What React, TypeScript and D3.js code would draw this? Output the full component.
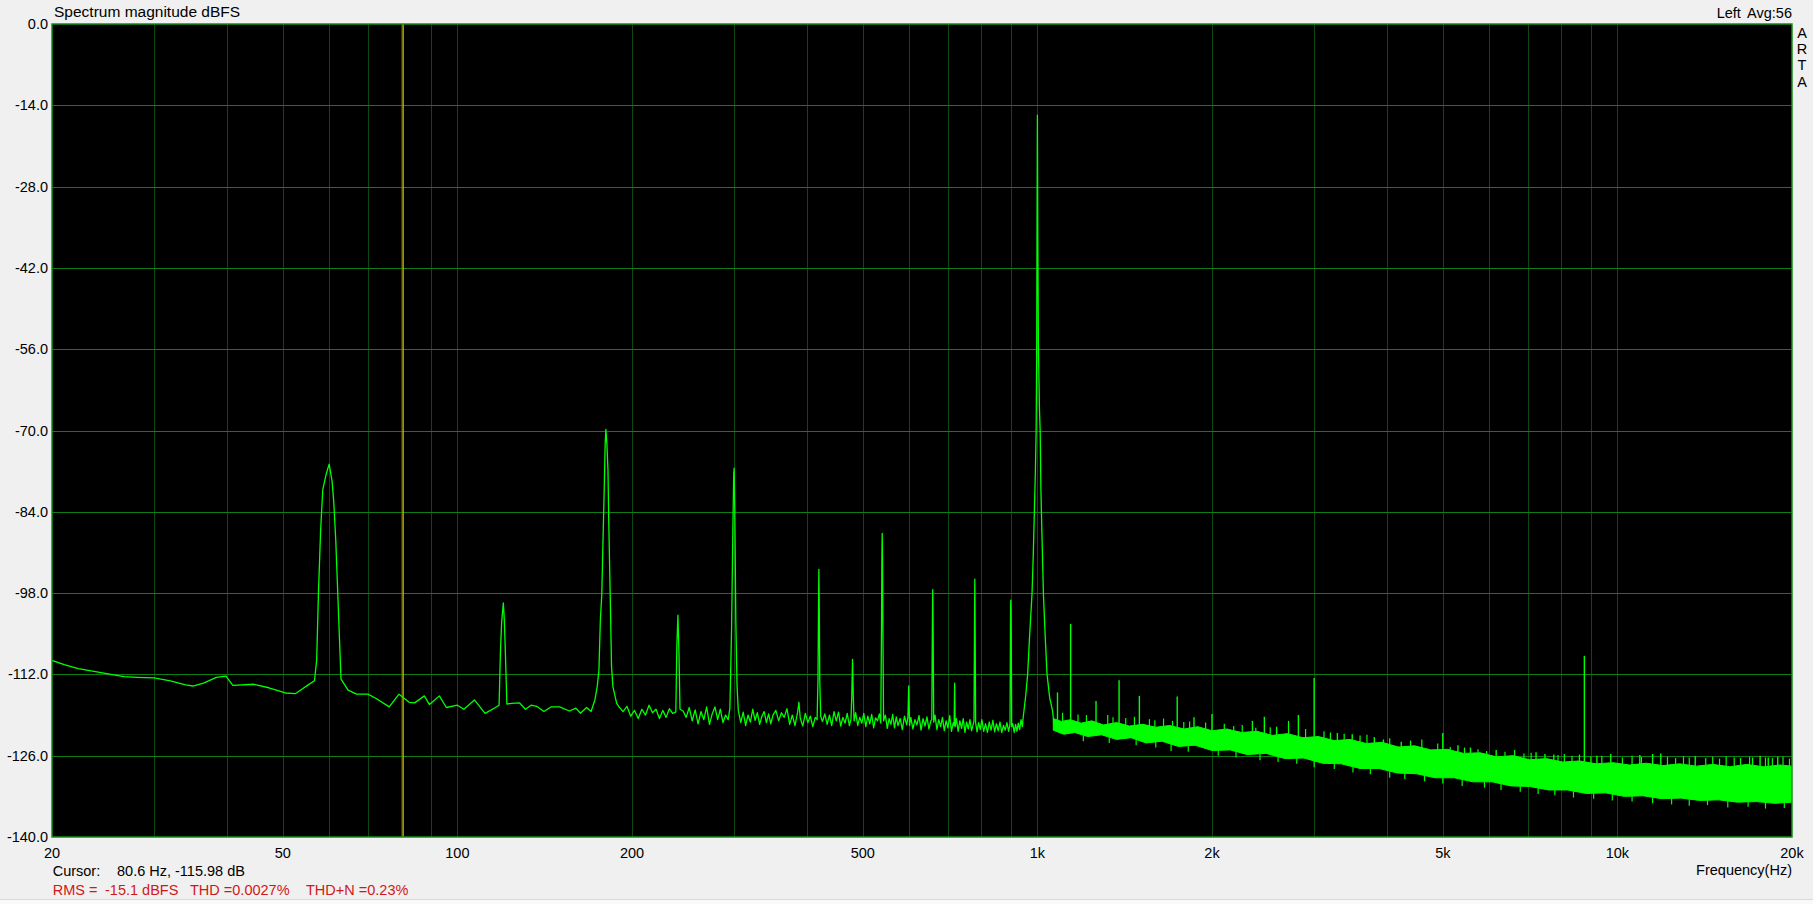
import React, { useEffect, useRef } from "react";
import * as d3 from "d3";

// measured trace below ~1.07 kHz, [Hz, dBFS]
const lowTrace: [number, number][] = [
  [20, -109.6], [21, -110.3], [22.2, -111.0], [24.3, -111.7], [26.6, -112.4], [28, -112.5],
  [30, -112.6], [32, -113.1], [34, -113.8], [35, -114.0], [36.5, -113.5], [38.4, -112.5],
  [39.9, -112.3], [41, -113.9], [44.6, -113.7], [47.3, -114.3], [50.5, -115.2], [52.6, -115.3],
  [54, -114.5], [55.3, -113.8], [56.7, -113.1],
  [57.2, -109.5], [57.6, -98], [58.1, -87.2], [58.6, -80.2], [59.4, -77.5], [60.1, -75.8],
  [60.8, -78.7], [61.2, -82.2], [61.7, -88.9], [62.1, -96.4], [62.6, -105.6], [63.0, -112.8],
  [64.8, -114.7], [67, -115.4], [70.1, -115.4], [72.3, -116.1], [76.3, -117.6], [79.3, -115.4],
  [82.6, -116.8], [84.4, -116.9], [87.7, -115.7], [89.5, -117.2], [93.1, -115.7], [95.7, -117.7],
  [100, -117.3], [102.6, -118.0], [107, -116.4], [111.6, -118.7], [116.3, -117.7],
  [118.0, -117.3], [118.6, -108.5], [119.2, -103], [120, -99.7], [120.5, -102.8], [121.0, -108.5],
  [121.7, -117.1],
  [124, -117.0], [128, -116.9], [131, -118.0], [134, -117.3], [137, -117.5], [141, -118.4],
  [145, -117.6], [150, -117.6], [156, -118.3], [160, -117.8], [163, -118.7], [167, -117.7],
  [170, -118.4], [172.6, -116.4], [174.2, -114.1], [175.4, -111.2], [176.4, -102.6], [177.4, -98.2],
  [178.1, -90.6], [179.2, -79.1], [179.8, -72.2], [180.3, -69.8], [181.0, -72.2], [181.8, -76.8],
  [182.3, -84.8], [183.3, -96.9], [184.4, -110.7], [185.4, -114.1], [188.2, -117.0],
  [190, -117.6], [193, -118.4], [196, -117.5], [199, -119.2], [202, -118.2], [205, -119.6],
  [208, -118.0], [211, -119.0], [214, -117.3], [217, -118.6], [220, -118.0], [223, -119.6],
  [226, -118.2], [229, -119.4], [232, -117.9], [235, -118.7],
  [238, -118.5], [239, -107], [240, -101.8], [241, -108.4], [242, -118.0],
  [245, -118.3], [248, -119.4], [251, -117.7], [254, -120.0], [257, -118.1], [260, -120.5],
  [263, -118.4], [266, -119.8], [269, -117.6], [272, -120.6], [275, -118.8], [278, -117.6],
  [281, -119.8], [284, -118.0], [287, -120.3], [290, -119.0], [293, -119.8],
  [295, -117.8], [297, -104], [298.5, -87], [299.5, -77.4], [300, -76.5], [300.8, -84],
  [302, -102.6], [303.5, -114], [305, -118.2],
  [308, -120.3], [311, -118.5], [314, -120.8], [317, -119.0], [320, -120.2], [323, -118.0],
  [326, -119.9], [329, -118.6], [332, -120.6], [335, -119.2], [338, -118.4], [341, -120.3],
  [344, -118.8], [347, -120.5], [350, -119.0], [354, -118.2], [358, -120.0], [362, -118.6],
  [366, -119.4], [370, -117.9], [374, -120.6], [378, -119.0], [382, -120.8], [386, -118.5],
  [388, -116.8], [390, -119.5], [394, -120.9], [398, -118.7], [402, -120.3], [406, -119.2],
  [410, -121.0], [414, -119.4],
  [417, -119.8], [418.5, -113], [419.3, -101.5], [420, -93.9], [420.7, -101.5], [421.5, -113],
  [423, -119.2],
  [426, -120.1], [430, -118.8], [434, -120.6], [438, -119.0], [442, -120.8], [446, -118.4],
  [450, -120.0], [454, -118.5], [458, -120.9], [462, -119.4], [466, -120.4], [470, -118.7],
  [474, -120.8],
  [477, -119.8], [478.5, -116], [480, -109.4], [481.5, -116], [483, -120.0],
  [486, -118.6], [490, -120.8], [494, -119.4], [498, -120.4], [502, -118.7], [506, -121.0],
  [510, -119.2], [514, -120.5], [518, -118.9], [522, -121.2], [526, -119.5], [530, -120.0],
  [534, -118.8],
  [537, -120.4], [538.5, -104], [539.3, -92], [540, -87.7], [540.7, -92], [541.5, -104],
  [543, -120.0],
  [547, -119.0], [551, -121.3], [555, -119.6], [559, -120.6], [563, -118.9], [567, -121.2],
  [571, -119.3], [575, -120.8], [580, -119.6], [585, -121.5], [590, -119.2], [595, -120.7],
  [598, -119.5], [600, -114.0], [602, -120.8],
  [605, -119.4], [610, -121.4], [615, -119.8], [620, -120.7], [625, -119.1], [630, -121.6],
  [635, -119.6], [640, -120.9], [645, -119.3], [650, -121.4], [655, -120.0],
  [657.5, -119.8], [659, -104], [660, -97.4], [661, -104], [662.5, -120.2],
  [666, -119.0], [671, -121.5], [676, -119.8], [681, -121.0], [686, -119.4], [691, -121.7],
  [696, -120.0], [701, -121.2], [706, -119.1], [711, -121.8], [716, -120.3],
  [718.5, -120.8], [720, -113.5], [721.5, -121.0],
  [725, -119.6], [730, -121.8], [735, -120.0], [740, -121.3], [745, -119.6], [750, -122.0],
  [755, -120.2], [760, -121.4], [765, -119.8], [770, -121.7], [775, -120.6],
  [777.5, -120.0], [779, -104], [780, -95.6], [781, -104], [782.5, -120.3],
  [787, -121.9], [792, -120.3], [797, -121.5], [802, -119.8], [808, -121.8], [814, -120.5],
  [820, -122.0], [826, -120.2], [832, -121.6], [838, -119.9], [844, -121.9], [850, -120.5],
  [856, -121.7], [862, -120.2], [868, -122.0], [874, -120.8], [880, -121.6], [886, -120.3],
  [892, -121.8],
  [897, -120.6], [898.5, -104], [899.3, -100], [900, -99.2], [900.7, -101], [901.5, -106],
  [903, -121.0],
  [907, -120.5], [912, -122.0], [917, -120.6], [922, -121.8], [927, -120.4], [932, -121.5],
  [937, -119.8], [942, -121.0], [946, -119.0],
  [948, -118.3], [955, -115.5], [962, -112], [970, -105], [979, -98], [984, -91], [988, -84],
  [992, -77], [995, -70], [997, -58], [998.5, -35], [1000, -15.7], [1001.5, -35], [1004, -55],
  [1008, -66], [1011, -70], [1014, -80], [1016, -84], [1020, -91], [1024, -98], [1031, -105],
  [1039, -112], [1050, -116], [1062, -118.3], [1068, -120.5],
];

// dense noise above ~1.07 kHz: solid part of the green band
const bandTop: [number, number][] = [
  [1065, -119.6], [1100, -120.1], [1140, -119.8], [1190, -120.4], [1240, -120.0], [1300, -120.7],
  [1370, -120.3], [1440, -120.9], [1520, -120.6], [1600, -121.1], [1690, -120.8], [1790, -121.4],
  [1890, -121.0], [2000, -121.7], [2120, -121.4], [2250, -122.0], [2390, -121.8], [2540, -122.5],
  [2700, -122.2], [2870, -122.9], [3050, -122.7], [3250, -123.4], [3460, -123.2], [3690, -123.9],
  [3930, -123.7], [4190, -124.5], [4470, -124.3], [4770, -125.0], [5090, -124.9], [5430, -125.6],
  [5800, -125.5], [6190, -126.2], [6610, -126.0], [7060, -126.7], [7540, -126.5], [8050, -127.1],
  [8600, -126.9], [9190, -127.4], [9820, -127.2], [10490, -127.6], [11210, -127.3], [11980, -127.7],
  [12800, -127.4], [13680, -127.8], [14620, -127.5], [15630, -127.9], [16710, -127.5], [17860, -127.9],
  [19090, -127.6], [20000, -127.8],
];

const bandBottom: [number, number][] = [
  [1065, -121.6], [1110, -122.3], [1160, -122.0], [1220, -122.7], [1290, -122.4], [1370, -123.2],
  [1450, -122.9], [1540, -123.8], [1640, -123.5], [1750, -124.4], [1870, -124.2], [2000, -125.1],
  [2150, -125.0], [2300, -125.8], [2480, -125.6], [2670, -126.5], [2880, -126.4], [3100, -127.3],
  [3340, -127.4], [3600, -128.2], [3880, -128.2], [4180, -129.0], [4500, -129.1], [4850, -129.8],
  [5230, -129.8], [5640, -130.5], [6080, -130.5], [6550, -131.2], [7060, -131.3], [7610, -131.9],
  [8200, -131.9], [8840, -132.5], [9530, -132.4], [10270, -133.0], [11070, -132.9], [11930, -133.4],
  [12860, -133.3], [13860, -133.7], [14940, -133.6], [16100, -134.0], [17350, -133.9], [18700, -134.2],
  [20000, -134.0],
];

// spikes standing out of the noise band
const spikeHz = [
  1083, 1141, 1262, 1383, 1499, 1742, 1862, 2000, 2348, 2462, 2585, 2818, 3000, 3290, 3490,
  3810, 3950, 4240, 5000, 5310, 5580, 6180, 7240, 7500, 7770, 8770, 9220, 9740, 10930, 11500,
  11880, 13620, 17100, 17620, 18200, 18900,
];
const spikeDb = [
  -115.1, -103.3, -116.6, -113.0, -115.7, -115.8, -119.4, -118.8, -120.0, -119.3, -121.0, -119.0,
  -112.6, -122.1, -122.3, -122.8, -123.2, -123.6, -122.1, -124.2, -124.6, -125.0, -125.4, -125.7,
  -125.8, -108.8, -126.0, -125.7, -125.9, -125.7, -125.6, -126.1, -126.3, -126.0, -126.3, -126.2,
];

// short noise hairs above the band and dips below it
const hairHz = [
  1105, 1175, 1215, 1322, 1350, 1420, 1470, 1560, 1594, 1650, 1710, 1788, 1830, 1950,
  2100, 2180, 2255, 2380, 2520, 2710, 2900, 3120, 3200, 3380, 3600, 3700, 4050, 4400, 4600, 4900,
  5150, 5450, 5750, 5950, 6400, 6650, 6900, 7100, 7900, 8100, 8350, 8600, 9000, 9400,
  10200, 10600, 11000, 12200, 12600, 13000, 13300, 14200, 14600, 15000, 15400, 15900, 16300, 16900,
  18000, 18500, 19300, 19800,
];
const hairDb = [
  -118.6, -118.9, -119.0, -119.0, -119.4, -119.5, -119.3, -119.7, -119.9, -119.6, -120.0, -120.2, -120.1, -120.3,
  -120.5, -120.9, -120.7, -121.2, -121.1, -120.0, -121.4, -121.8, -122.0, -122.2, -122.5, -122.4, -123.0, -123.4, -123.2, -123.9,
  -124.5, -124.6, -124.9, -125.2, -125.3, -125.0, -125.6, -125.5, -125.9, -125.7, -126.0, -125.8, -126.1, -126.0,
  -126.3, -126.0, -126.2, -126.2, -126.4, -126.1, -126.3, -126.4, -126.2, -126.5, -126.1, -126.3, -126.4, -126.2,
  -126.3, -126.4, -126.2, -126.5,
];
const dipHz = [
  1200, 1330, 1480, 1600, 1700, 1820, 2050, 2200, 2420, 2600, 2800, 3000, 3250, 3500, 3750,
  4050, 4300, 4650, 5000, 5400, 5900, 6300, 6800, 7300, 7800, 8400, 9100, 9800, 10600, 11500,
  12400, 13300, 14300, 15500, 16800, 18000, 19400,
];
const dipDb = [
  -123.5, -123.8, -124.2, -124.6, -125.2, -125.3, -126.0, -126.3, -126.8, -127.1, -127.4, -128.0, -128.3, -128.9, -129.2,
  -129.8, -130.0, -130.4, -130.8, -131.2, -131.5, -131.9, -132.2, -132.6, -132.8, -133.2, -133.4, -133.7, -133.9, -134.2,
  -134.4, -134.6, -134.5, -134.9, -134.8, -135.1, -135.0,
];

const yTicks = [0, -14, -28, -42, -56, -70, -84, -98, -112, -126, -140];
const xTickHz = [20, 50, 100, 200, 500, 1000, 2000, 5000, 10000, 20000];
const xTickText = ["20", "50", "100", "200", "500", "1k", "2k", "5k", "10k", "20k"];
const gridHz = [
  30, 40, 50, 60, 70, 80, 90, 100, 200, 300, 400, 500, 600, 700, 800, 900,
  1000, 2000, 3000, 4000, 5000, 6000, 7000, 8000, 9000, 10000,
];
const cursorHz = 80.6;

const FONT = "'Liberation Sans', Arial, sans-serif";
const GREEN = "#00ff00";

const SpectrumChart: React.FC = () => {
  const svgRef = useRef<SVGSVGElement | null>(null);

  useEffect(() => {
    if (!svgRef.current) return;
    const width = 1813;
    const height = 904;
    const left = 52;
    const right = 1792;
    const top = 24;
    const bottom = 837;

    const x = d3.scaleLog().domain([20, 20000]).range([left, right]);
    const y = d3.scaleLinear().domain([-140, 0]).range([bottom, top]);

    const svg = d3
      .select(svgRef.current)
      .attr("width", width)
      .attr("height", height)
      .attr("viewBox", [0, 0, width, height]);

    svg.append("rect").attr("width", width).attr("height", height).attr("fill", "#f0f0f0");
    svg.append("rect").attr("y", 899).attr("width", width).attr("height", 5).attr("fill", "#f9f9f9");
    svg.append("line").attr("x1", 0).attr("x2", width).attr("y1", 899.5).attr("y2", 899.5)
      .attr("stroke", "#d9d9d9");

    // plot background
    svg.append("rect")
      .attr("x", left).attr("y", top)
      .attr("width", right - left).attr("height", bottom - top)
      .attr("fill", "#000");

    // grid
    svg.append("g")
      .attr("shape-rendering", "crispEdges")
      .selectAll("line")
      .data(gridHz)
      .join("line")
      .attr("x1", (d) => Math.round(x(d)) + 0.5)
      .attr("x2", (d) => Math.round(x(d)) + 0.5)
      .attr("y1", top)
      .attr("y2", bottom)
      .attr("stroke", "#0c4a10");

    svg.append("g")
      .attr("shape-rendering", "crispEdges")
      .selectAll("line")
      .data(yTicks.slice(1, -1))
      .join("line")
      .attr("x1", left)
      .attr("x2", right)
      .attr("y1", (d) => Math.round(y(d)) + 0.5)
      .attr("y2", (d) => Math.round(y(d)) + 0.5)
      .attr("stroke", "#0f7c16");

    const clipId = "plot-clip";
    svg.append("clipPath").attr("id", clipId)
      .append("rect")
      .attr("x", left).attr("y", top)
      .attr("width", right - left).attr("height", bottom - top);

    const plot = svg.append("g").attr("clip-path", `url(#${clipId})`);

    // cursor
    plot.append("line")
      .attr("x1", x(cursorHz)).attr("x2", x(cursorHz))
      .attr("y1", top).attr("y2", bottom)
      .attr("stroke", "#d8c800")
      .attr("stroke-width", 1.3);

    const line = d3.line<[number, number]>()
      .x((d) => x(d[0]))
      .y((d) => y(d[1]));

    // noise band
    const bandPath = line([...bandTop, ...bandBottom.slice().reverse()]) + "Z";
    plot.append("path")
      .attr("d", bandPath)
      .attr("fill", GREEN)
      .attr("stroke", GREEN)
      .attr("stroke-width", 1);

    const topAt = d3.scaleLog()
      .domain(bandTop.map((d) => d[0]))
      .range(bandTop.map((d) => d[1]));
    const bottomAt = d3.scaleLog()
      .domain(bandBottom.map((d) => d[0]))
      .range(bandBottom.map((d) => d[1]));

    const verticals = (hz: number[], db: number[], from: (f: number) => number, w: number) =>
      plot.append("g")
        .selectAll("line")
        .data(hz)
        .join("line")
        .attr("x1", (d) => x(d))
        .attr("x2", (d) => x(d))
        .attr("y1", (d) => y(from(d)))
        .attr("y2", (_, i) => y(db[i]))
        .attr("stroke", GREEN)
        .attr("stroke-width", w);

    verticals(hairHz, hairDb, topAt, 1.2);
    verticals(dipHz, dipDb, bottomAt, 1.2);
    verticals(spikeHz, spikeDb, topAt, 1.4);

    // low frequency trace
    plot.append("path")
      .datum(lowTrace)
      .attr("d", line)
      .attr("fill", "none")
      .attr("stroke", GREEN)
      .attr("stroke-width", 1.3)
      .attr("stroke-linejoin", "round");

    // border
    svg.append("rect")
      .attr("x", left).attr("y", top)
      .attr("width", right - left).attr("height", bottom - top)
      .attr("fill", "none")
      .attr("stroke", "#129019")
      .attr("stroke-width", 1.5);

    const text = (tx: number, ty: number, s: string, anchor = "start", color = "#000", size = 14.5) =>
      svg.append("text")
        .attr("x", tx).attr("y", ty)
        .attr("text-anchor", anchor)
        .attr("fill", color)
        .attr("font-family", FONT)
        .attr("font-size", size)
        .text(s);

    // y labels
    svg.append("g")
      .selectAll("text")
      .data(yTicks)
      .join("text")
      .attr("x", 48)
      .attr("y", (d) => y(d) + 5)
      .attr("text-anchor", "end")
      .attr("font-family", FONT)
      .attr("font-size", 14.5)
      .text((d) => d.toFixed(1));

    // x labels
    svg.append("g")
      .selectAll("text")
      .data(xTickHz)
      .join("text")
      .attr("x", (d) => x(d))
      .attr("y", 858)
      .attr("text-anchor", "middle")
      .attr("font-family", FONT)
      .attr("font-size", 14.5)
      .text((_, i) => xTickText[i]);

    text(54, 17, "Spectrum magnitude dBFS", "start", "#000", 15.5);
    text(1716.7, 17.5, "Left");
    text(1792, 17.5, "Avg:56", "end");
    ["A", "R", "T", "A"].forEach((c, i) => text(1802, 37.5 + i * 16.4, c, "middle", "#000", 14.5));

    text(1792, 875, "Frequency(Hz)", "end");
    text(52.7, 876, "Cursor:");
    text(117, 876, "80.6 Hz, -115.98 dB");

    const red = "#d01818";
    text(52.7, 895, "RMS =", "start", red);
    text(105, 895, "-15.1 dBFS", "start", red);
    text(190, 895, "THD =0.0027%", "start", red);
    text(306, 895, "THD+N =0.23%", "start", red);

    return () => {
      svg.selectAll("*").remove();
    };
  }, []);

  return (
    <svg
      ref={svgRef}
      style={{ position: "absolute", left: 0, top: 0, display: "block" }}
    ></svg>
  );
};

export default function App() {
  return <SpectrumChart />;
}
